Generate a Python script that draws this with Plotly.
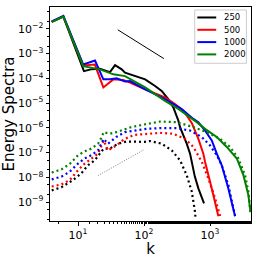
import plotly.graph_objects as go

# ---- data ----
labels = ["250", "500", "1000", "2000"]
colors = ["black", "red", "blue", "green"]

# solid spectra
k_250 = [4, 6, 12.3, 15.7, 21.5, 30.5, 36.4, 45.9, 51.5, 73, 104, 147, 185, 233, 278, 331, 351, 443, 498, 587, 665, 810]
E_250 = [1.9e-2, 3.1e-2, 1.95e-4, 2.3e-4, 2.45e-4, 1.78e-4, 3.4e-4, 2.3e-4, 1.7e-4, 1.23e-4, 9.1e-5, 4.9e-5, 3.1e-5, 1.45e-5,
         6.7e-6, 1.96e-6, 1.07e-6, 2.3e-7, 9.1e-8, 1.1e-8, 3.6e-9, 8.9e-10]

k_500 = [4, 6, 12, 18, 24.2, 34.3, 48.5, 61.3, 104, 208, 295, 394, 528, 665, 791, 839, 1061, 1336]
E_500 = [1.9e-2, 3.1e-2, 3.3e-4, 3.6e-4, 4.3e-5, 9.1e-5, 8.5e-5, 6.7e-5, 3.6e-5, 1.7e-5, 9.1e-6, 4.9e-6, 1.58e-6, 3.6e-7,
         9.1e-8, 4.3e-8, 3.6e-9, 2.7e-10]

k_1000 = [4, 6, 12, 18.1, 24.2, 30.5, 38.5, 51.5, 61.3, 104, 208, 372, 559, 665, 839, 1061, 1264, 1504, 1893, 2393]
E_1000 = [2.0e-2, 3.3e-2, 3.6e-4, 5.2e-4, 9.1e-5, 9.1e-5, 1.0e-4, 7.4e-5, 7.8e-5, 3.6e-5, 1.45e-5, 5.8e-6, 2.3e-6, 1.7e-6,
          7.8e-7, 3.1e-7, 9.1e-8, 3.1e-8, 3.6e-9, 2.7e-10]

k_2000 = [4, 6, 12, 21.5, 34.3, 51.5, 104, 208, 331, 469, 628, 839, 1264, 1791, 2541, 3200, 3802, 4100]
E_2000 = [1.9e-2, 3.1e-2, 3.1e-4, 2.3e-4, 1.45e-4, 1.23e-4, 4.3e-5, 1.23e-5, 5.8e-6, 3.1e-6, 1.7e-6, 9.1e-7, 4.3e-7, 1.7e-7,
          5.8e-8, 1.23e-8, 1.95e-9, 4.0e-10]

# dotted spectra
kd_250 = [4, 5.6, 8.4, 11.2, 14.2, 17.9, 24.5, 30.2, 40.4, 54, 72, 102, 123, 185, 263, 351, 443, 528, 590, 600]
Ed_250 = [3.0e-9, 4.0e-9, 7.8e-9, 1.45e-8, 3.1e-8, 4.9e-8, 1.45e-7, 1.45e-7, 2.3e-7, 2.8e-7, 2.8e-7, 2.7e-7, 2.95e-7,
          2.3e-7, 1.23e-7, 4.9e-8, 1.23e-8, 2.7e-9, 4.3e-10, 2.6e-10]

kd_500 = [4, 5.6, 7.5, 10, 12.6, 15.9, 20.1, 24.5, 28.5, 38, 50.9, 72, 108, 175, 278, 418, 559, 748, 942, 1191, 1419]
Ed_500 = [4.3e-9, 5.2e-9, 7.8e-9, 1.95e-8, 3.6e-8, 5.8e-8, 9.1e-8, 3.1e-7, 1.23e-7, 1.95e-7, 3.6e-7, 5.2e-7, 5.8e-7,
          6.3e-7, 5.8e-7, 3.6e-7, 1.7e-7, 4.3e-8, 9.1e-9, 1.45e-9, 2.75e-10]

kd_1000 = [4, 5.6, 7.5, 10, 12.6, 15.9, 20.1, 24.5, 28.5, 38, 50.9, 72, 108, 175, 313, 498, 748, 1000, 1264, 1504, 1893, 2393]
Ed_1000 = [8.3e-9, 1.07e-8, 1.7e-8, 3.6e-8, 5.8e-8, 7.8e-8, 1.23e-7, 3.6e-7, 2.3e-7, 4.3e-7, 6.7e-7, 7.8e-7, 9.1e-7,
           9.8e-7, 9.8e-7, 7.8e-7, 4.3e-7, 1.95e-7, 7.8e-8, 3.1e-8, 4.9e-9, 2.75e-10]

kd_2000 = [4, 5.6, 7.5, 10, 12.6, 15.9, 20.1, 22.5, 24.5, 30.2, 38, 48, 64, 91, 175, 313, 559, 891, 1419, 2009, 2687,
           3390, 3802, 4100]
Ed_2000 = [1.58e-8, 2.1e-8, 3.5e-8, 7.8e-8, 1.12e-7, 1.45e-7, 2.3e-7, 3.9e-7, 6.7e-7, 5.8e-7, 6.7e-7, 8.5e-7, 1.07e-6,
           1.3e-6, 1.8e-6, 1.7e-6, 1.07e-6, 6.7e-7, 3.6e-7, 1.7e-7, 5.8e-8, 1.23e-8, 2.7e-9, 3.5e-10]

# reference slopes
k_ref53 = [40, 200]
E_ref53 = [10 ** 0.63 * kk ** (-5.0 / 3.0) for kk in k_ref53]
k_ref32 = [20, 100]
E_ref32 = [10 ** (-7.93) * (kk / 20.0) ** 1.5 for kk in k_ref32]

x_ticks = [10, 100, 1000]
x_ticktext = ["10<sup>1</sup>", "10<sup>2</sup>", "10<sup>3</sup>"]
y_ticks = [1e-9, 1e-8, 1e-7, 1e-6, 1e-5, 1e-4, 1e-3, 1e-2]
y_ticktext = ["10<sup>−%d</sup>" % n for n in range(9, 1, -1)]

solid = [(k_250, E_250), (k_500, E_500), (k_1000, E_1000), (k_2000, E_2000)]
dotted = [(kd_250, Ed_250), (kd_500, Ed_500), (kd_1000, Ed_1000), (kd_2000, Ed_2000)]

fig = go.Figure()
for (kk, ee), lab, col in zip(solid, labels, colors):
    fig.add_trace(go.Scatter(x=kk, y=ee, mode="lines", name=lab, showlegend=False,
                             line=dict(color=col, width=2)))
for (kk, ee), lab, col in zip(dotted, labels, colors):
    fig.add_trace(go.Scatter(x=kk, y=ee, mode="lines", showlegend=False,
                             line=dict(color=col, width=2.2, dash="2px,3px")))
fig.add_trace(go.Scatter(x=k_ref53, y=E_ref53, mode="lines", showlegend=False,
                         line=dict(color="black", width=1)))
fig.add_trace(go.Scatter(x=k_ref32, y=E_ref32, mode="lines", showlegend=False,
                         line=dict(color="gray", width=1, dash="1px,1.5px")))

axis_common = dict(showline=True, linecolor="black", linewidth=1, mirror=True, automargin=False,
                   showgrid=False, zeroline=False, ticks="outside", ticklen=3.5,
                   tickcolor="black", tickfont=dict(family="DejaVu Sans", size=11, color="black"),
                   minor=dict(ticks="outside", ticklen=2, tickcolor="black", showgrid=False))

fig.update_xaxes(type="log", range=[0.576, 3.62], tickvals=x_ticks, ticktext=x_ticktext,
                 title=dict(text="k", font=dict(family="DejaVu Sans", size=15, color="black"), standoff=0),
                 **axis_common)
fig.update_yaxes(type="log", range=[-9.76, -1.12], tickvals=y_ticks, ticktext=y_ticktext,
                 title=dict(text="Energy Spectra", font=dict(family="DejaVu Sans", size=15, color="black"), standoff=2),
                 **axis_common)

# legend box (drawn in paper coordinates, matplotlib style)
leg_rows = [0.951, 0.8935, 0.836, 0.7785]
shapes = [dict(type="rect", xref="paper", yref="paper", x0=0.720, x1=0.977, y0=0.737, y1=0.986,
               line=dict(color="#cccccc", width=1), fillcolor="white", layer="above")]
annotations = []
for lab, col, yy in zip(labels, colors, leg_rows):
    shapes.append(dict(type="line", xref="paper", yref="paper", x0=0.733, x1=0.827, y0=yy, y1=yy,
                       line=dict(color=col, width=2), layer="above"))
    annotations.append(dict(text=lab, xref="paper", yref="paper", x=0.857, y=yy, xanchor="left",
                            yanchor="middle", showarrow=False,
                            font=dict(family="DejaVu Sans", size=8.5, color="black")))

fig.update_layout(
    template="none",
    width=258, height=258,
    margin=dict(l=50, r=7, t=7, b=37, autoexpand=False),
    paper_bgcolor="white", plot_bgcolor="white",
    font=dict(family="DejaVu Sans", color="black"),
    showlegend=False,
    shapes=shapes,
    annotations=annotations,
)

fig.write_html("out.html", config={"displayModeBar": False},
               post_script="document.body.style.margin='0';document.body.style.padding='0';")
